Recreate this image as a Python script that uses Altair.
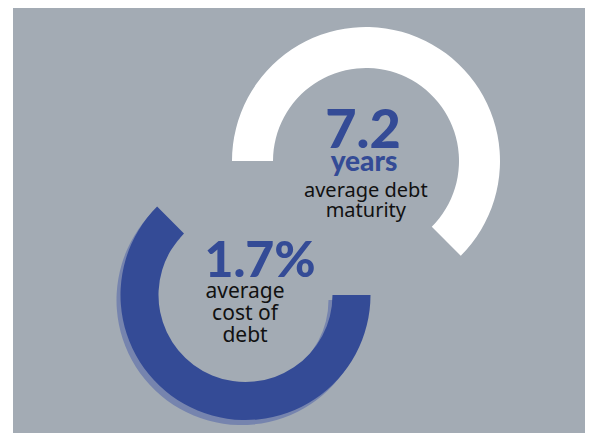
import altair as alt
import pandas as pd

# ---- data ----
metrics = ["maturity", "cost"]
start_deg = [-90, 90]          # where each ring starts (clockwise from 12 o'clock)
span_pct = [62.5, 62.5]        # share of the full circle drawn
big_values = ["7.2", "1.7%"]
units = ["years", ""]
descriptions = ["average debt\nmaturity", "average\ncost of\ndebt"]

W, H = 577, 425
GREY = "#A3ABB4"
BLUE = "#344B96"
SHADOW = "#7684AE"

rings = pd.DataFrame({"metric": metrics, "start": start_deg, "span": span_pct})

base = alt.Chart(rings).transform_calculate(
    t1="datum.start * PI / 180",
    t2="(datum.start + datum.span * 3.6) * PI / 180",
)

bg = alt.Chart(pd.DataFrame({"a": [0]})).mark_rect(color=GREY).encode(
    x=alt.value(5), x2=alt.value(W), y=alt.value(0), y2=alt.value(H)
)

def ring(metric, color, cx, cy, r_out, r_in):
    return base.transform_filter(alt.datum.metric == metric).mark_arc(
        color=color, radius=r_out, radius2=r_in
    ).encode(
        theta=alt.Theta("t1:Q", scale=None),
        theta2="t2:Q",
        x=alt.value(cx),
        y=alt.value(cy),
    )

white_ring = ring("maturity", "#FFFFFF", 358, 153, 134, 93)
blue_shadow = ring("cost", SHADOW, 233.5, 292, 125, 87)
blue_ring = ring("cost", BLUE, 237.5, 287, 125, 87)

texts = pd.DataFrame({"metric": metrics, "big": big_values, "unit": units, "desc": descriptions})

def txt(metric, field, x, y, size, color, font, weight, line_height=None):
    kw = dict(align="center", baseline="alphabetic", fontSize=size, color=color,
              font=font, fontWeight=weight, lineBreak="\n")
    if line_height:
        kw["lineHeight"] = line_height
    return alt.Chart(texts).transform_filter(alt.datum.metric == metric).mark_text(**kw).encode(
        text=f"{field}:N", x=alt.value(x), y=alt.value(y)
    )

t1 = txt("maturity", "big", 355, 139.7, 54, BLUE, "Lato", 900)
t2 = txt("maturity", "unit", 356, 163, 28, BLUE, "Lato", 900)
t3 = txt("maturity", "desc", 357.8, 189.3, 20, "#111111", "Noto Sans", 400, 20)
t4 = txt("cost", "big", 252, 268.7, 50, BLUE, "Lato", 900)
t5 = txt("cost", "desc", 237, 290.3, 21, "#111111", "Noto Sans", 400, 21.7)

chart = alt.layer(bg, white_ring, blue_shadow, blue_ring, t1, t2, t3, t4, t5).properties(
    width=W, height=H, padding=0, autosize=alt.AutoSizeParams(type="none"),
    background="#FFFFFF",
).configure_view(stroke=None)

chart.save("out.html", embed_options={"renderer": "svg", "actions": False})
